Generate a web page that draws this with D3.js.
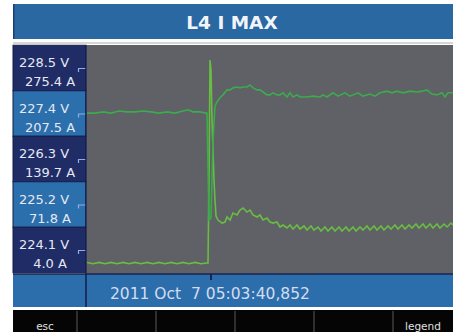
<!DOCTYPE html>
<html>
<head>
<meta charset="utf-8">
<script src="https://cdn.jsdelivr.net/npm/d3@7"></script>
<style>
body { margin: 0; background: #fff; }
svg { display: block; }
text { font-family: "DejaVu Sans", sans-serif; }
</style>
</head>
<body>
<svg width="453" height="332"></svg>
<script>
'use strict';

const title = "L4 I MAX";
const timestamp = "2011 Oct  7 05:03:40,852";
const softkeys = ["esc", "", "", "", "", "legend"];

const voltTicks = [228.5, 227.4, 226.3, 225.2, 224.1];
const currTicks = [275.4, 207.5, 139.7, 71.8, 4.0];

// time in ms relative to the trigger, volts
const voltage = [
    [-123, 227.41], [-115, 227.41], [-107, 227.44], [-99, 227.41], [-91, 227.46],
    [-83, 227.44], [-75, 227.44], [-67, 227.46], [-59, 227.44], [-51, 227.41],
    [-43, 227.44], [-35, 227.41], [-27, 227.46], [-22, 227.49], [-17, 227.44],
    [-10, 227.44], [-4, 227.41], [-3, 227.41], [-1, 224.83], [1, 224.87],
    [3, 226.76], [5, 227.58], [7, 227.68], [10, 227.78], [13, 227.85],
    [17, 227.97], [20, 227.97], [23, 228.02], [27, 228.04], [30, 228.02],
    [33, 228.04], [37, 228.04], [40, 228.09], [43, 228.02], [47, 227.97],
    [50, 227.97], [53, 227.92], [57, 227.85], [60, 227.85], [63, 227.9],
    [67, 227.85], [70, 227.85], [73, 227.9], [77, 227.8], [80, 227.9],
    [83, 227.8], [87, 227.85], [90, 227.8], [97, 227.8], [103, 227.82],
    [110, 227.8], [113, 227.85], [117, 227.8], [123, 227.9], [128, 227.82],
    [135, 227.9], [140, 227.82], [148, 227.9], [153, 227.82], [160, 227.87],
    [165, 227.82], [170, 227.9], [177, 227.94], [182, 227.9], [187, 227.94],
    [193, 227.9], [200, 227.94], [207, 227.92], [212, 227.94], [217, 227.97],
    [222, 227.87], [227, 227.85], [232, 227.9], [235, 227.8], [238, 227.9],
    [243, 227.9]
];

// time in ms relative to the trigger, amps
const current = [
    [-123, -14.5], [-117, -16.5], [-111, -14.5], [-105, -16.5], [-99, -14.5],
    [-93, -16.5], [-87, -14.5], [-81, -16.5], [-75, -14.5], [-69, -16.5],
    [-63, -14.5], [-57, -16.5], [-51, -14.5], [-45, -16.5], [-39, -14.5],
    [-33, -16.5], [-27, -14.5], [-21, -16.5], [-15, -14.5], [-9, -16.5],
    [-3, -15.4], [-2, -15.4], [-1, 108.4], [0, 287.3], [1, 272.4],
    [2, 197.9], [3, 153.1], [4, 108.4], [5, 78.5], [6, 54.7],
    [8, 48.7], [12, 44.2], [15, 45.7], [17, 53.2], [20, 48.7],
    [23, 59.1], [27, 56.2], [30, 63.6], [33, 66.6], [37, 60.6],
    [40, 63.6], [43, 56.2], [47, 53.2], [50, 56.2], [53, 48.7],
    [57, 51.7], [60, 45.7], [63, 44.2], [67, 45.7], [70, 38.3],
    [73, 41.3], [77, 36.8], [80, 41.3], [83, 35.3], [87, 41.3],
    [90, 35.3], [94, 39.8], [97, 33.8], [101, 39.8], [104, 33.8],
    [108, 38.3], [111, 32.3], [115, 38.3], [118, 32.3], [122, 38.3],
    [125, 32.3], [129, 38.3], [132, 32.3], [136, 38.3], [139, 32.3],
    [143, 38.3], [146, 32.3], [150, 38.3], [153, 33.8], [157, 39.8],
    [160, 33.8], [164, 39.8], [167, 33.8], [171, 39.8], [174, 33.8],
    [178, 39.8], [181, 35.3], [185, 41.3], [188, 35.3], [192, 41.3],
    [195, 35.3], [199, 41.3], [202, 36.8], [206, 42.7], [209, 36.8],
    [213, 42.7], [216, 36.8], [220, 42.7], [223, 36.8], [227, 42.7],
    [230, 36.8], [234, 42.7], [237, 38.3], [241, 44.2], [243, 41.3]
];

const svg = d3.select("svg");
const W = 453, H = 332;
const left = 13, panelRight = 86, plotLeft = 87;
const plotTop = 45, plotBottom = 274;

let x = d3.scaleLinear().domain([-123, 243]).range([plotLeft, W]);
let yV = d3.scaleLinear().domain([224.1, 228.5]).range([250, 68]);
let yI = d3.scaleLinear().domain([4.0, 275.4]).range([250, 68]);
let boxH = yV(voltTicks[1]) - yV(voltTicks[0]);

// title bar
svg.append("rect").attr("x", left).attr("y", 4).attr("width", W - left).attr("height", 35)
    .attr("fill", "#2a68a1");
svg.append("rect").attr("x", left).attr("y", 4).attr("width", 1.5).attr("height", 35)
    .attr("fill", "#1c3f70");
svg.append("text").attr("x", 232).attr("y", 29).attr("text-anchor", "middle")
    .attr("fill", "#f2f4fa").attr("font-size", 18.5).attr("font-weight", "bold")
    .text(title);
svg.append("line").attr("x1", left).attr("x2", W).attr("y1", 43).attr("y2", 43)
    .attr("stroke", "#c9c9cd").attr("stroke-width", 1.5);

// plot background
svg.append("rect").attr("x", plotLeft).attr("y", plotTop)
    .attr("width", W - plotLeft).attr("height", plotBottom - plotTop)
    .attr("fill", "#5f6166");

// label boxes
let boxes = svg.selectAll(".box").data(voltTicks).enter().append("g").attr("class", "box");
boxes.append("rect")
    .attr("x", left)
    .attr("y", d => yV(d) - boxH / 2)
    .attr("width", panelRight - left)
    .attr("height", boxH)
    .attr("fill", (d, i) => i % 2 ? "#2b6fad" : "#1f2c66")
    .attr("stroke", "#141d48").attr("stroke-width", 1);
boxes.append("text")
    .attr("x", 44).attr("y", d => yV(d) - 1)
    .attr("text-anchor", "middle").attr("font-size", 13).attr("fill", "#e6e8f2")
    .text(d => d.toFixed(1) + " V");
boxes.append("text")
    .attr("x", 50).attr("y", (d, i) => yI(currTicks[i]) + 18)
    .attr("text-anchor", "middle").attr("font-size", 13).attr("fill", "#e6e8f2")
    .text((d, i) => currTicks[i].toFixed(1) + " A");
boxes.append("path")
    .attr("d", d => `M 78.5 ${yV(d) + 4} V ${yV(d) + 0.5} H ${panelRight}`)
    .attr("fill", "none").attr("stroke", "#8fb0de").attr("stroke-width", 1.2);

// time bar
svg.append("rect").attr("x", left).attr("y", plotBottom).attr("width", W - left).attr("height", 33)
    .attr("fill", "#2b6eab");
svg.append("line").attr("x1", left).attr("x2", W).attr("y1", plotBottom).attr("y2", plotBottom)
    .attr("stroke", "#1a2352").attr("stroke-width", 1.5);
svg.append("line").attr("x1", panelRight).attr("x2", panelRight).attr("y1", plotTop).attr("y2", 307)
    .attr("stroke", "#141d48").attr("stroke-width", 1.5);
svg.append("line").attr("x1", x(0) + 1).attr("x2", x(0) + 1).attr("y1", plotBottom).attr("y2", 280)
    .attr("stroke", "#1a2352").attr("stroke-width", 2);
svg.append("text").attr("x", 110).attr("y", 299)
    .attr("font-size", 15.5).attr("fill", "#d4dcf0").style("white-space", "pre")
    .text(timestamp);

// traces
let clip = svg.append("clipPath").attr("id", "plot-clip").append("rect")
    .attr("x", plotLeft).attr("y", plotTop).attr("width", W - plotLeft).attr("height", plotBottom - plotTop - 1);
let g = svg.append("g").attr("clip-path", "url(#plot-clip)");
g.append("path").datum(current)
    .attr("fill", "none").attr("stroke", "#69bd42").attr("stroke-width", 1.6)
    .attr("d", d3.line().x(d => x(d[0])).y(d => yI(d[1])));
g.append("path").datum(voltage)
    .attr("fill", "none").attr("stroke", "#3bab4c").attr("stroke-width", 1.6)
    .attr("d", d3.line().x(d => x(d[0])).y(d => yV(d[1])));

// softkey bar
let keys = d3.scaleBand().domain(d3.range(softkeys.length)).range([-2, 472]);
svg.append("rect").attr("x", left).attr("y", 310).attr("width", W - left).attr("height", H - 310)
    .attr("fill", "#050505");
svg.selectAll(".sep").data(d3.range(1, softkeys.length)).enter().append("line")
    .attr("x1", i => keys(i)).attr("x2", i => keys(i))
    .attr("y1", 311).attr("y2", H)
    .attr("stroke", "#5a5a5a").attr("stroke-width", 1);
svg.selectAll(".key").data(softkeys).enter().append("text")
    .attr("x", (d, i) => (Math.max(keys(i), left) + Math.min(keys(i) + keys.bandwidth(), W)) / 2)
    .attr("y", 330)
    .attr("text-anchor", "middle").attr("font-size", 10.5).attr("fill", "#e0e0e0")
    .text(d => d);
</script>
</body>
</html>
